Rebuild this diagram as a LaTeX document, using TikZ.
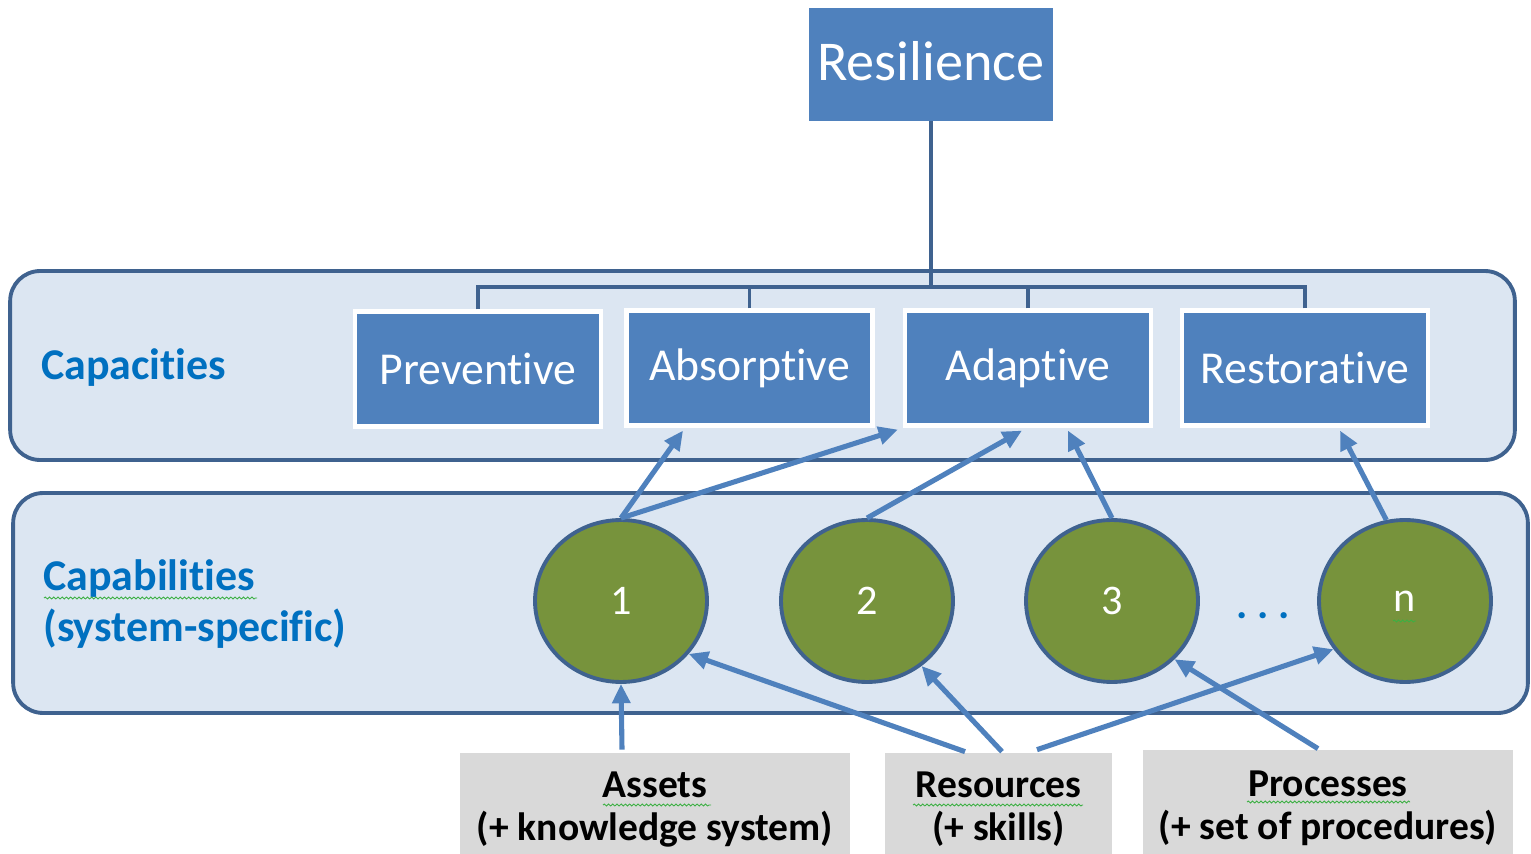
\documentclass[tikz,border=0pt]{standalone}
\usepackage{fontspec}
\setmainfont{Carlito}[Ligatures=NoCommon, RawFeature={-calt}]
\usetikzlibrary{arrows.meta,shapes.geometric,decorations.pathmorphing,calc}
\definecolor{boxblue}{HTML}{4F81BD}
\definecolor{darkline}{HTML}{3F628F}
\definecolor{panelfill}{HTML}{DCE6F2}
\definecolor{capgreen}{HTML}{77933C}
\definecolor{boxgray}{HTML}{D9D9D9}
\definecolor{labelblue}{HTML}{0070C0}
\definecolor{spellgreen}{HTML}{3CB043}
\begin{document}
\begin{tikzpicture}[x=0.02cm,y=-0.02cm,
  panel/.style={draw=darkline, fill=panelfill, line width=2.2pt, rounded corners=0.6cm, inner sep=0pt},
  topbox/.style={fill=boxblue, text=white, inner sep=0pt, font=\fontsize{32}{36}\selectfont},
  capbox/.style={fill=boxblue, draw=white, line width=2.4pt, text=white, inner sep=0pt,
    minimum width=4.92cm, minimum height=2.3cm, font=\fontsize{26}{30}\selectfont},
  capab/.style={ellipse, fill=capgreen, draw=darkline, line width=2.2pt, text=white, inner sep=0pt,
    minimum width=3.44cm, minimum height=3.24cm, font=\fontsize{24}{28}\selectfont},
  graybox/.style={fill=boxgray, inner sep=0pt, align=center, font=\bfseries\fontsize{22.5}{24.4}\selectfont},
  sidelabel/.style={text=labelblue, anchor=west, align=left, inner sep=0pt, font=\bfseries\fontsize{25}{29.5}\selectfont},
  bus/.style={draw=darkline, line width=2.2pt},
  arr/.style={draw=boxblue, line width=2.9pt, -{Triangle[length=11pt,width=10pt]}},
  spell/.style={draw=spellgreen, line width=0.5pt, decorate, decoration={snake, amplitude=0.55pt, segment length=2.4pt}}
]
\useasboundingbox (0,0) rectangle (1531,854);

% panels
\node[panel, minimum width=30.1cm, minimum height=3.78cm] (panelA) at (762.5,365.5) {};
\node[panel, minimum width=30.3cm, minimum height=4.4cm] (panelB) at (770.5,603) {};

% top box
\node[topbox, minimum width=4.88cm, minimum height=2.26cm, text depth=0.14cm] (res) at (931,64.5) {Resilience};

% capacities
\node[capbox] (prev) at (478,369) {Preventive};
\node[capbox] (abso) at (749.5,368) {Absorptive};
\node[capbox] (adap) at (1028,368) {Adaptive};
\node[capbox] (rest) at (1305,368) {Restorative};

% tree bus
\coordinate (busc) at (931,287);
\draw[bus] (res.south) -- (busc);
\draw[bus] (prev.north) |- (busc);
\draw[bus] (abso.north) |- (busc);
\draw[bus] (adap.north) |- (busc);
\draw[bus] (rest.north) |- (busc);

% side labels
\node[sidelabel] (lcapa) at (41,368) {Capacities};
\node[sidelabel] (lcapb) at (43,604) {Capabilities\\(system-specific)};

% capabilities circles
\node[capab] (c1) at (621,601) {1};
\node[capab] (c2) at (867,601) {2};
\node[capab] (c3) at (1112,601) {3};
\node[capab] (cn) at (1405,601) {n};
\node[text=labelblue, inner sep=0pt, font=\bfseries\fontsize{24}{28}\selectfont] (dots) at (1263,616)
  {\makebox[0.42cm]{.}\makebox[0.42cm]{.}\makebox[0.42cm]{.}};

% bottom boxes (extend below the page edge, which cuts them)
\node[graybox, minimum width=7.8cm, minimum height=2.26cm] (assets) at (655,809.5) {Assets\\(+ knowledge system)};
\node[graybox, minimum width=4.54cm, minimum height=2.26cm] (resour) at (998.5,809.5) {Resources\\(+ skills)};
\node[graybox, minimum width=7.4cm, minimum height=2.32cm] (proc) at (1328,808) {Processes\\(+ set of procedures)};

% arrows capabilities -> capacities
\draw[arr] (c1.north) -- ([xshift=-1.33cm,yshift=-0.06cm]abso.south);
\draw[arr] (c1.north) -- ([xshift=-0.1cm,yshift=-0.04cm]adap.south west);
\draw[arr] (c2.north) -- ([xshift=-0.12cm,yshift=-0.06cm]adap.south);
\draw[arr] (c3.north) -- ([xshift=0.8cm,yshift=-0.06cm]adap.south);
\draw[arr] (cn.103) -- ([xshift=0.7cm,yshift=-0.06cm]rest.south);

% arrows bottom -> capabilities
\draw[arr] ([xshift=-0.66cm,yshift=0.06cm]assets.north) -- (c1.south);
\draw[arr] ([xshift=-0.67cm,yshift=0.02cm]resour.north) -- (c1.-38);
\draw[arr] ([xshift=0.07cm,yshift=0.02cm]resour.north) -- (c2.-50);
\draw[arr] ([xshift=0.77cm,yshift=0.06cm]resour.north) -- (cn.-146);
\draw[arr] ([xshift=-0.2cm,yshift=0.02cm]proc.north) -- (c3.-43);

% spell-check underlines
\draw[spell] (44,598) -- (257,598);
\draw[spell] (603,805) -- (711,805);
\draw[spell] (913,805) -- (1083,805);
\draw[spell] (1247,802) -- (1410,802);
\draw[spell] (1393,621) -- (1416,621);
\end{tikzpicture}
\end{document}
